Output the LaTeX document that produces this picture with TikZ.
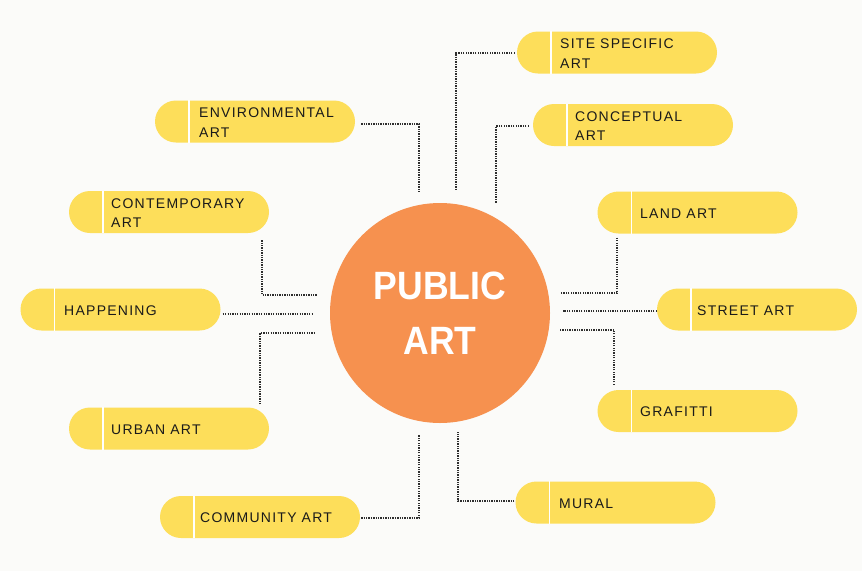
\documentclass[tikz,border=0pt]{standalone}
\usepackage{fontspec}
\setmainfont{Liberation Sans}
\newfontfamily\labelfont[LetterSpace=9]{Liberation Sans}
\newfontfamily\titlefont[FakeStretch=0.9]{Liberation Sans}
\definecolor{bg}{HTML}{FBFBF9}
\definecolor{pillc}{HTML}{FDDE5A}
\definecolor{orangec}{HTML}{F6914F}
\definecolor{txtc}{HTML}{1A1A1A}
\definecolor{dotc}{HTML}{2E2E2E}
\begin{document}
\begin{tikzpicture}[x=1pt,y=-1pt,
  pillbox/.style={fill=pillc, draw=none, rounded corners=21pt, minimum width=200pt, minimum height=42pt, inner sep=0pt},
  divider/.style={draw=white, line width=1.5pt},
  lbl/.style={anchor=west, inner sep=0pt, align=left, text=txtc, font=\labelfont\fontsize{14}{19.6}\selectfont},
  conn/.style={draw=dotc, line width=1.8pt, dash pattern=on 1.3pt off 1.1pt},
  hubnode/.style={circle, fill=orangec, minimum size=220pt, inner sep=0pt, align=center, text=white, font=\titlefont\bfseries\fontsize{39.5}{55}\selectfont}
]
\fill[bg] (0,0) rectangle (862,571);

% hub
\node[hubnode] (hub) at (440,313) {PUBLIC\\ART};

% pills
\node[pillbox] (site) at (617,52.5) {};
\node[pillbox] (conc) at (633,125) {};
\node[pillbox] (env) at (255,121.5) {};
\node[pillbox] (cont) at (169,212) {};
\node[pillbox] (happ) at (120.5,309.5) {};
\node[pillbox] (urban) at (169,428.5) {};
\node[pillbox] (land) at (697.5,212.5) {};
\node[pillbox] (street) at (757,309.5) {};
\node[pillbox] (graf) at (697.5,411) {};
\node[pillbox] (comm) at (260,517) {};
\node[pillbox] (mural) at (615.5,502.5) {};

% dividers
\foreach \p in {site,conc,env,cont,happ,urban,land,street,graf,comm,mural}{
  \draw[divider] ([xshift=34pt]\p.north west) -- ([xshift=34pt]\p.south west);
}

% labels
\node[lbl] (siteT) at (560,53.5) {SITE SPECIFIC\\ART};
\node[lbl] (concT) at (575,126) {CONCEPTUAL\\ART};
\node[lbl] (envT) at (199,122.5) {ENVIRONMENTAL\\ART};
\node[lbl] (contT) at (111,213) {CONTEMPORARY\\ART};
\node[lbl] (happT) at (64,310.5) {HAPPENING};
\node[lbl] (urbanT) at (111,429.5) {URBAN ART};
\node[lbl] (landT) at (640,213.5) {LAND ART};
\node[lbl] (streetT) at (697,310.5) {STREET ART};
\node[lbl] (grafT) at (640,412) {GRAFITTI};
\node[lbl] (commT) at (200,518) {COMMUNITY ART};
\node[lbl] (muralT) at (559,503.5) {MURAL};

% connector ends
\coordinate (siteEnd) at (456,190);
\coordinate (concEnd) at (496,203);
\coordinate (envEnd) at (419,193);
\coordinate (contEnd) at (317,295);
\coordinate (happEnd) at (313,314);
\coordinate (urbanEnd) at (316,333);
\coordinate (landEnd) at (561,293);
\coordinate (streetEnd) at (563,311);
\coordinate (grafEnd) at (559,330);
\coordinate (commEnd) at (419,435);
\coordinate (muralEnd) at (458,432);

% connectors
\draw[conn] ([shift={(-2,0.5)}]site.west) -| (siteEnd);
\draw[conn] ([shift={(-4,1)}]conc.west) -| (concEnd);
\draw[conn] ([shift={(6,2.5)}]env.east) -| (envEnd);
\draw[conn] ([shift={(-7,7)}]cont.south east) |- (contEnd);
\draw[conn] ([shift={(2,4.5)}]happ.east) -- (happEnd);
\draw[conn] ([shift={(-9,-3)}]urban.north east) |- (urbanEnd);
\draw[conn] ([shift={(20,4)}]land.south west) |- (landEnd);
\draw[conn] ([shift={(0,1.5)}]street.west) -- (streetEnd);
\draw[conn] ([shift={(17,-5)}]graf.north west) |- (grafEnd);
\draw[conn] ([shift={(1,1)}]comm.east) -| (commEnd);
\draw[conn] ([shift={(-1,-1.5)}]mural.west) -| (muralEnd);
\end{tikzpicture}
\end{document}
